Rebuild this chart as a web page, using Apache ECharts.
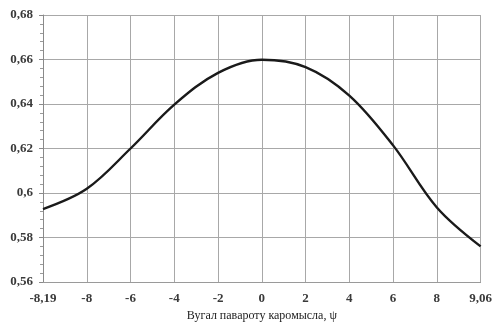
<!DOCTYPE html>
<html>
<head>
<meta charset="utf-8">
<script src="https://cdn.jsdelivr.net/npm/echarts@6/dist/echarts.min.js"></script>
<style>
  html, body { margin: 0; padding: 0; background: #fff; }
  #chart { width: 495px; height: 327px; }
</style>
</head>
<body>
<div id="chart"></div>
<script>
// Rocker rotation angle (category ticks) and the measured value at each
const angleLabels = ['-8,19', '-8', '-6', '-4', '-2', '0', '2', '4', '6', '8', '9,06'];
const values = [0.5928, 0.6019, 0.6200, 0.6397, 0.6540, 0.6599, 0.6566, 0.6438, 0.6214, 0.5935, 0.5760];

const yMin = 0.56, yMax = 0.68, yStep = 0.02;
const axisTitle = 'Вугал павароту каромысла, ψ';

const chart = echarts.init(document.getElementById('chart'), null, { renderer: 'canvas' });
const fontFamily = '"Liberation Serif", "DejaVu Serif", serif';

chart.setOption({
  animation: false,
  backgroundColor: '#ffffff',
  grid: { left: 43, right: 13, top: 15, bottom: 39, containLabel: false },
  xAxis: {
    type: 'category',
    data: angleLabels,
    boundaryGap: false,
    name: axisTitle,
    nameLocation: 'middle',
    nameGap: 28,
    nameTextStyle: { fontFamily, fontSize: 12, color: '#222' },
    axisLine: { show: true, lineStyle: { color: '#9a9a9a', width: 1 } },
    axisTick: { show: false },
    axisLabel: { fontFamily, fontSize: 13, fontWeight: 'bold', color: '#3a3a3a', margin: 10, interval: 0 },
    splitLine: { show: true, lineStyle: { color: '#a8a8a8', width: 1 } }
  },
  yAxis: {
    type: 'value',
    min: yMin,
    max: yMax,
    interval: yStep,
    axisLine: { show: true, lineStyle: { color: '#8a8a8a', width: 1 } },
    axisTick: { show: true, inside: false, length: 4, lineStyle: { color: '#8a8a8a' } },
    minorTick: { show: true, splitNumber: 5, length: 3, lineStyle: { color: '#9a9a9a' } },
    axisLabel: {
      fontFamily, fontSize: 13, fontWeight: 'bold', color: '#3a3a3a', margin: 10,
      formatter: v => (Math.round(v * 100) / 100).toString().replace('.', ',')
    },
    splitLine: { show: true, lineStyle: { color: '#a8a8a8', width: 1 } }
  },
  series: [{
    type: 'line',
    data: values,
    smooth: 0.35,
    symbol: 'none',
    lineStyle: { color: '#1a1a1a', width: 2.4 }
  }]
});
</script>
</body>
</html>
